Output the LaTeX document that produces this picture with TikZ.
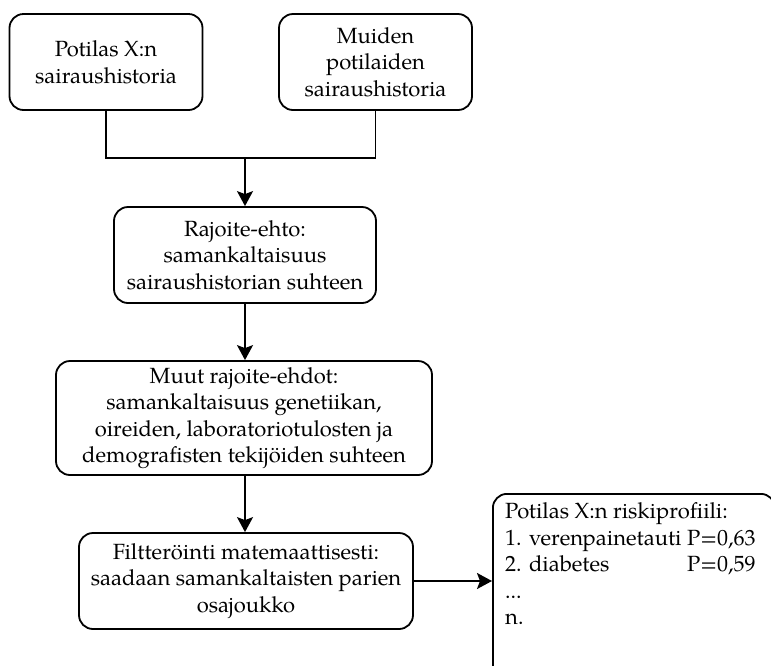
\documentclass[tikz,border=0pt]{standalone}
\usepackage{fontspec}
\setmainfont{TeX Gyre Pagella}
\usetikzlibrary{arrows.meta}
\begin{document}
\begin{tikzpicture}[x=1pt,y=-1pt,
  txt/.style={font=\fontsize{22}{26.5}\selectfont},
  box/.style={draw,line width=1.8pt,rounded corners=14pt,align=center,inner sep=0pt,txt},
  arr/.style={line width=1.8pt,-{Stealth[length=15pt,width=16pt,inset=3pt]}},
  con/.style={line width=1.8pt}]
\useasboundingbox (0,0) rectangle (771,665);
\begin{scope}
\clip (0,0) rectangle (771,665);
\node[box,minimum width=193pt,minimum height=96pt] (A) at (106,62) {Potilas X:n\\sairaushistoria};
\node[box,minimum width=193pt,minimum height=96pt] (B) at (375.5,62) {Muiden\\potilaiden\\sairaushistoria};
\node[box,minimum width=262pt,minimum height=96pt] (C) at (245,255) {Rajoite-ehto:\\samankaltaisuus\\sairaushistorian suhteen};
\node[box,minimum width=376pt,minimum height=114pt] (D) at (244,418) {Muut rajoite-ehdot:\\samankaltaisuus genetiikan,\\oireiden, laboratoriotulosten ja\\demografisten tekijöiden suhteen};
\node[box,minimum width=334pt,minimum height=96pt] (E) at (246,581) {Filtteröinti matemaattisesti:\\saadaan samankaltaisten parien\\osajoukko};
\node[box,anchor=north west,minimum width=282pt,minimum height=200pt] (F) at (492,493) {};
\node[anchor=north west,inner sep=0pt,align=left,txt] (Ft) at (505,500)
 {\begin{tabular}{@{}l@{\ }r@{}}
  \multicolumn{2}{@{}l@{}}{Potilas X:n riskiprofiili:}\\
  1. verenpainetauti & P=0,63\\
  2. diabetes & P=0,59\\
  \multicolumn{2}{@{}l@{}}{...}\\
  \multicolumn{2}{@{}l@{}}{n.}
 \end{tabular}};
\coordinate (m) at (245,158);
\draw[con] (A.south) |- (m) -| (B.south);
\draw[arr] (m) -- (C.north);
\draw[arr] (C.south) -- (C.south |- D.north);
\draw[arr] (D.south -| C.south) -- (C.south |- E.north);
\draw[arr] (E.east) -- (E.east -| F.west);
\end{scope}
\end{tikzpicture}
\end{document}
